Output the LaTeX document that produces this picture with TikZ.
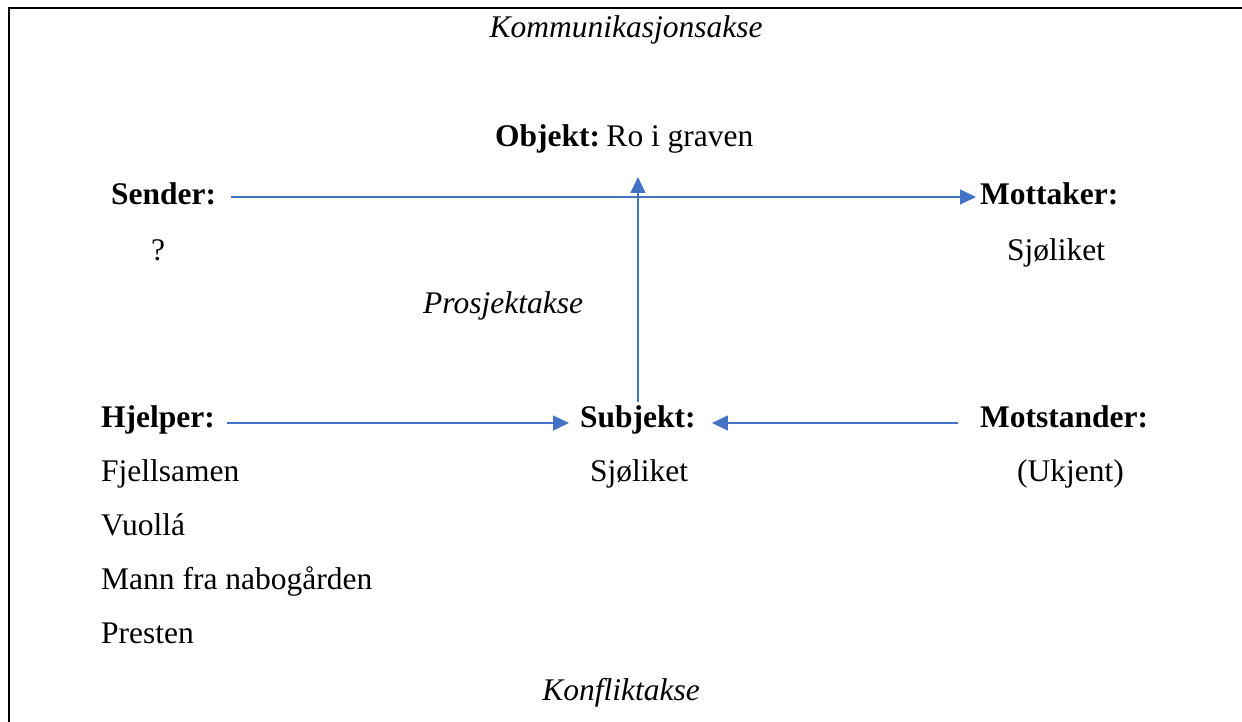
\documentclass[tikz,border=0pt]{standalone}
\usepackage{fontspec}
\setmainfont{Liberation Serif}
\usetikzlibrary{arrows.meta}
\definecolor{axisblue}{HTML}{4472C4}
\tikzset{
  lbl/.style={inner sep=0pt, font=\fontsize{31.5}{38}\selectfont},
  role/.style={lbl, font=\fontsize{31.5}{38}\selectfont\bfseries},
  axislabel/.style={lbl, font=\fontsize{31.5}{38}\selectfont\itshape},
  axisarrow/.style={draw=axisblue, line width=1.4pt,
    -{Triangle[length=16pt, width=15pt, fill=axisblue]}}
}
\begin{document}
\begin{tikzpicture}[x=1pt, y=-1pt]
\useasboundingbox (0,0) rectangle (1242,722);
% frame edges
\draw[line width=2.2pt] (9,722) -- (9,8) -- (1242,8);

% axis titles
\node[axislabel, anchor=base] (komm) at (626,38) {Kommunikasjonsakse};
\node[axislabel, anchor=base west] (prosj) at (423,313) {Prosjektakse};
\node[axislabel, anchor=base] (konf) at (621,700) {Konfliktakse};

% actants
\node[lbl, anchor=base west] (objekt) at (495,147) {\textbf{Objekt:}\hspace{0.2em}Ro i graven};
\node[role, anchor=base west] (sender) at (111,205) {Sender:};
\node[lbl, anchor=base] (senderval) at (158,260) {?};
\node[role, anchor=base west] (mottaker) at (980,205) {Mottaker:};
\node[lbl, anchor=base west] (mottakerval) at (1007,260) {Sjøliket};

\node[role, anchor=base west] (hjelper) at (101,427) {Hjelper:};
\node[lbl, anchor=base west] (h1) at (101,481) {Fjellsamen};
\node[lbl, anchor=base west] (h2) at (101,535) {Vuollá};
\node[lbl, anchor=base west] (h3) at (101,589) {Mann fra nabogården};
\node[lbl, anchor=base west] (h4) at (101,643) {Presten};

\node[role, anchor=base west] (subjekt) at (580,427) {Subjekt:};
\node[lbl, anchor=base west] (subjektval) at (590,481) {Sjøliket};

\node[role, anchor=base west] (motstander) at (980,427) {Motstander:};
\node[lbl, anchor=base west] (motstanderval) at (1017,481) {(Ukjent)};

% tip of the project axis, just below the object
\coordinate (projtip) at (637,177);

% communication axis
\draw[axisarrow] ([shift={(15pt,8pt)}]sender.base east) -- ([shift={(-4pt,8pt)}]mottaker.base west);
% project axis
\draw[axisarrow] ([yshift=3pt]subjekt.north) -- (subjekt.north |- projtip);
% conflict axis
\draw[axisarrow] ([shift={(12pt,4pt)}]hjelper.base east) -- ([shift={(-11pt,4pt)}]subjekt.base west);
\draw[axisarrow] ([shift={(-22pt,4pt)}]motstander.base west) -- ([shift={(16pt,4pt)}]subjekt.base east);
\end{tikzpicture}
\end{document}
